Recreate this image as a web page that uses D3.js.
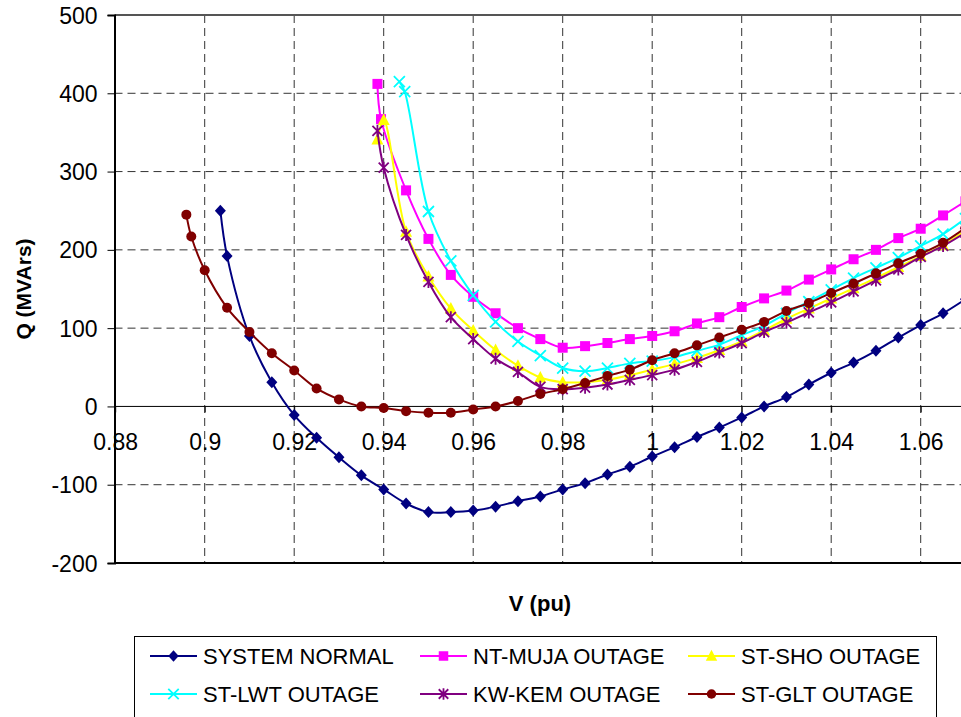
<!DOCTYPE html>
<html>
<head>
<meta charset="utf-8">
<script src="https://cdn.jsdelivr.net/npm/d3@7"></script>
<style>
  html, body { margin: 0; padding: 0; background: #fff; }
  svg { display: block; font-family: "Liberation Sans", Arial, sans-serif; }
</style>
</head>
<body>
<svg id="chart" width="961" height="717"></svg>
<script>
// ---------- DATA ----------
const xTicks = [0.88, 0.9, 0.92, 0.94, 0.96, 0.98, 1, 1.02, 1.04, 1.06];
const xTickLabels = ["0.88", "0.9", "0.92", "0.94", "0.96", "0.98", "1", "1.02", "1.04", "1.06"];
const yTicks = [-200, -100, 0, 100, 200, 300, 400, 500];
const yTickLabels = ["-200", "-100", "0", "100", "200", "300", "400", "500"];

const seriesNames = ["SYSTEM NORMAL", "NT-MUJA OUTAGE", "ST-SHO OUTAGE", "ST-LWT OUTAGE", "KW-KEM OUTAGE", "ST-GLT OUTAGE"];

const vNormal = [0.9035, 0.905, 0.91, 0.915, 0.92, 0.925, 0.93, 0.935, 0.94, 0.945, 0.95, 0.955, 0.96, 0.965, 0.97, 0.975, 0.98, 0.985, 0.99, 0.995, 1.0, 1.005, 1.01, 1.015, 1.02, 1.025, 1.03, 1.035, 1.04, 1.045, 1.05, 1.055, 1.06, 1.065, 1.07];
const qNormal = [250, 192, 90, 31, -11, -40, -65, -88, -106, -124, -135, -135, -133, -128, -121, -115, -106, -98, -87, -77, -64, -52, -39, -27, -14, 0, 12, 28, 43, 56, 71, 88, 104, 119, 137];

const vMuja = [0.9386, 0.9394, 0.945, 0.95, 0.955, 0.96, 0.965, 0.97, 0.975, 0.98, 0.985, 0.99, 0.995, 1.0, 1.005, 1.01, 1.015, 1.02, 1.025, 1.03, 1.035, 1.04, 1.045, 1.05, 1.055, 1.06, 1.065, 1.07];
const qMuja = [412, 367, 276, 214, 168, 140, 119, 100, 86, 75, 77, 81, 86, 90, 96, 106, 114, 127, 138, 148, 162, 175, 188, 200, 215, 227, 244, 262];

const vSho = [0.9386, 0.94, 0.945, 0.95, 0.955, 0.96, 0.965, 0.97, 0.975, 0.98, 0.985, 0.99, 0.995, 1.0, 1.005, 1.01, 1.015, 1.02, 1.025, 1.03, 1.035, 1.04, 1.045, 1.05, 1.055, 1.06, 1.065, 1.07];
const qSho = [341, 366, 223, 166, 125, 97, 72, 52, 37, 31, 31, 34, 40, 47, 54, 62, 72, 83, 97, 112, 125, 138, 151, 164, 178, 192, 206, 225];

const vLwt = [0.9435, 0.9447, 0.95, 0.955, 0.96, 0.965, 0.97, 0.975, 0.98, 0.985, 0.99, 0.995, 1.0, 1.005, 1.01, 1.015, 1.02, 1.025, 1.03, 1.035, 1.04, 1.045, 1.05, 1.055, 1.06, 1.065, 1.07];
const qLwt = [415, 402, 249, 186, 142, 108, 83, 65, 49, 45, 49, 55, 58, 63, 71, 79, 91, 103, 119, 134, 149, 164, 177, 190, 205, 220, 240];

const vKem = [0.9386, 0.94, 0.945, 0.95, 0.955, 0.96, 0.965, 0.97, 0.975, 0.98, 0.985, 0.99, 0.995, 1.0, 1.005, 1.01, 1.015, 1.02, 1.025, 1.03, 1.035, 1.04, 1.045, 1.05, 1.055, 1.06, 1.065, 1.07];
const qKem = [352, 305, 219, 159, 114, 86, 61, 44, 25, 22, 24, 28, 34, 40, 47, 57, 69, 81, 95, 107, 120, 133, 147, 161, 175, 191, 205, 222];

const vGlt = [0.8959, 0.897, 0.9, 0.905, 0.91, 0.915, 0.92, 0.925, 0.93, 0.935, 0.94, 0.945, 0.95, 0.955, 0.96, 0.965, 0.97, 0.975, 0.98, 0.985, 0.99, 0.995, 1.0, 1.005, 1.01, 1.015, 1.02, 1.025, 1.03, 1.035, 1.04, 1.045, 1.05, 1.055, 1.06, 1.065, 1.07];
const qGlt = [245, 217, 174, 126, 95, 68, 46, 23, 9, 0, -2, -6, -8, -8, -4, 0, 7, 16, 22, 30, 39, 47, 59, 68, 78, 88, 98, 108, 122, 132, 145, 157, 170, 183, 195, 209, 228];

const seriesColors = ["#000080", "#FF00FF", "#FFFF00", "#00FFFF", "#800080", "#800000"];
const seriesMarkers = ["diamond", "square", "triangle", "cross", "asterisk", "circle"];

// ---------- BUILD ----------
const series = [
  { name: seriesNames[0], v: vNormal, q: qNormal },
  { name: seriesNames[1], v: vMuja, q: qMuja },
  { name: seriesNames[2], v: vSho, q: qSho },
  { name: seriesNames[3], v: vLwt, q: qLwt },
  { name: seriesNames[4], v: vKem, q: qKem },
  { name: seriesNames[5], v: vGlt, q: qGlt }
].map((s, i) => ({ ...s, color: seriesColors[i], marker: seriesMarkers[i],
   pts: s.v.map((v, j) => ({ v: v, q: s.q[j] })) }));

const svg = d3.select("#chart");
const W = 961, H = 717;
const plotL = 114.5, plotT = 15, plotB = 563;

const x = d3.scaleLinear().domain([0.88, 1.08]).range([115.2, 1010.2]);
const y = d3.scaleLinear().domain([-200, 500]).range([plotB, plotT]);

const defs = svg.append("defs");
defs.append("clipPath").attr("id", "plotclip")
  .append("rect").attr("x", plotL).attr("y", plotT - 10).attr("width", W - plotL).attr("height", plotB - plotT + 20);

// gridlines
const grid = svg.append("g");
grid.selectAll("line.vg").data(xTicks.filter(d => d > 0.881)).enter().append("line")
  .attr("x1", d => x(d)).attr("x2", d => x(d)).attr("y1", plotT).attr("y2", plotB)
  .attr("stroke", "#333").attr("stroke-width", 1).attr("stroke-dasharray", "8,5");
grid.selectAll("line.hg").data(yTicks.filter(d => d > -200 && d < 500 && d !== 0)).enter().append("line")
  .attr("x1", plotL).attr("x2", W).attr("y1", d => y(d)).attr("y2", d => y(d))
  .attr("stroke", "#333").attr("stroke-width", 1).attr("stroke-dasharray", "8,5");

// borders
svg.append("line").attr("x1", plotL).attr("x2", W).attr("y1", plotT).attr("y2", plotT)
  .attr("stroke", "#555").attr("stroke-width", 2);
svg.append("line").attr("x1", plotL).attr("x2", W).attr("y1", plotB).attr("y2", plotB)
  .attr("stroke", "#000").attr("stroke-width", 2);

// y axis
const yAxis = d3.axisLeft(y).tickValues(yTicks).tickSize(7)
  .tickFormat((d, i) => yTickLabels[i]);
const gy = svg.append("g").attr("transform", `translate(${plotL},0)`).call(yAxis);
gy.select(".domain").attr("stroke", "#000").attr("stroke-width", 2);
gy.selectAll(".tick line").attr("stroke", "#000").attr("stroke-width", 1);
gy.selectAll(".tick text").attr("font-size", 23).attr("font-family", "Liberation Sans, Arial, sans-serif")
  .attr("fill", "#000").attr("x", -17).attr("dy", "0.35em");

// x axis at zero
const xAxis = d3.axisBottom(x).tickValues(xTicks).tickSize(6)
  .tickFormat((d, i) => xTickLabels[i]);
const gx = svg.append("g").attr("transform", `translate(0,${y(0)})`).call(xAxis);
gx.select(".domain").remove();
gx.selectAll(".tick line").attr("stroke", "#000");
gx.selectAll(".tick text").attr("font-size", 23).attr("font-family", "Liberation Sans, Arial, sans-serif")
  .attr("fill", "#000").attr("y", 27).attr("dy", "0.71em");
svg.append("line").attr("x1", plotL).attr("x2", W).attr("y1", y(0)).attr("y2", y(0))
  .attr("stroke", "#000").attr("stroke-width", 1);

// axis titles
svg.append("text").attr("x", 540).attr("y", 611).attr("text-anchor", "middle")
  .attr("font-size", 22).attr("font-weight", "bold").text("V (pu)");
svg.append("text").attr("transform", "translate(31,289) rotate(-90)").attr("text-anchor", "middle")
  .attr("font-size", 21).attr("font-weight", "bold").text("Q (MVArs)");

// markers
function drawMarker(g, type, color, cx, cy, s) {
  s = s || 1;
  if (type === "diamond") {
    g.append("path").attr("d", `M${cx},${cy-6*s} L${cx+5.5*s},${cy} L${cx},${cy+6*s} L${cx-5.5*s},${cy} Z`).attr("fill", color);
  } else if (type === "square") {
    g.append("rect").attr("x", cx-5*s).attr("y", cy-5*s).attr("width", 10*s).attr("height", 10*s).attr("fill", color);
  } else if (type === "triangle") {
    g.append("path").attr("d", `M${cx},${cy-6.5*s} L${cx+6*s},${cy+5*s} L${cx-6*s},${cy+5*s} Z`).attr("fill", color);
  } else if (type === "cross") {
    g.append("path").attr("d", `M${cx-5.5*s},${cy-5.5*s} L${cx+5.5*s},${cy+5.5*s} M${cx+5.5*s},${cy-5.5*s} L${cx-5.5*s},${cy+5.5*s}`)
      .attr("stroke", color).attr("stroke-width", 1.8).attr("fill", "none");
  } else if (type === "asterisk") {
    g.append("path").attr("d", `M${cx-5*s},${cy-5*s} L${cx+5*s},${cy+5*s} M${cx+5*s},${cy-5*s} L${cx-5*s},${cy+5*s} M${cx},${cy-6*s} L${cx},${cy+6*s}`)
      .attr("stroke", color).attr("stroke-width", 1.8).attr("fill", "none");
  } else if (type === "circle") {
    g.append("circle").attr("cx", cx).attr("cy", cy).attr("r", 5*s).attr("fill", color);
  }
}

const line = d3.line().x(d => x(d.v)).y(d => y(d.q)).curve(d3.curveCatmullRom.alpha(0.5));
const plot = svg.append("g").attr("clip-path", "url(#plotclip)");
series.forEach(s => {
  const g = plot.append("g");
  g.append("path").attr("d", line(s.pts)).attr("fill", "none").attr("stroke", s.color).attr("stroke-width", 2);
  s.pts.forEach(p => drawMarker(g, s.marker, s.color, x(p.v), y(p.q)));
});

// legend
const lg = svg.append("g");
lg.append("rect").attr("x", 134.5).attr("y", 636.5).attr("width", 802).attr("height", 100)
  .attr("fill", "#fff").attr("stroke", "#000").attr("stroke-width", 1);
const colX = [150, 420, 688];
const rowY = [656, 694];
series.forEach((s, i) => {
  const cx = colX[i % 3], cy = rowY[Math.floor(i / 3)];
  const g = lg.append("g");
  g.append("line").attr("x1", cx).attr("x2", cx + 47).attr("y1", cy).attr("y2", cy)
    .attr("stroke", s.color).attr("stroke-width", 2);
  drawMarker(g, s.marker, s.color, cx + 23.5, cy, 0.95);
  g.append("text").attr("x", cx + 53).attr("y", cy).attr("dy", "0.36em")
    .attr("font-size", 22).attr("fill", "#000").text(s.name);
});
</script>
</body>
</html>
